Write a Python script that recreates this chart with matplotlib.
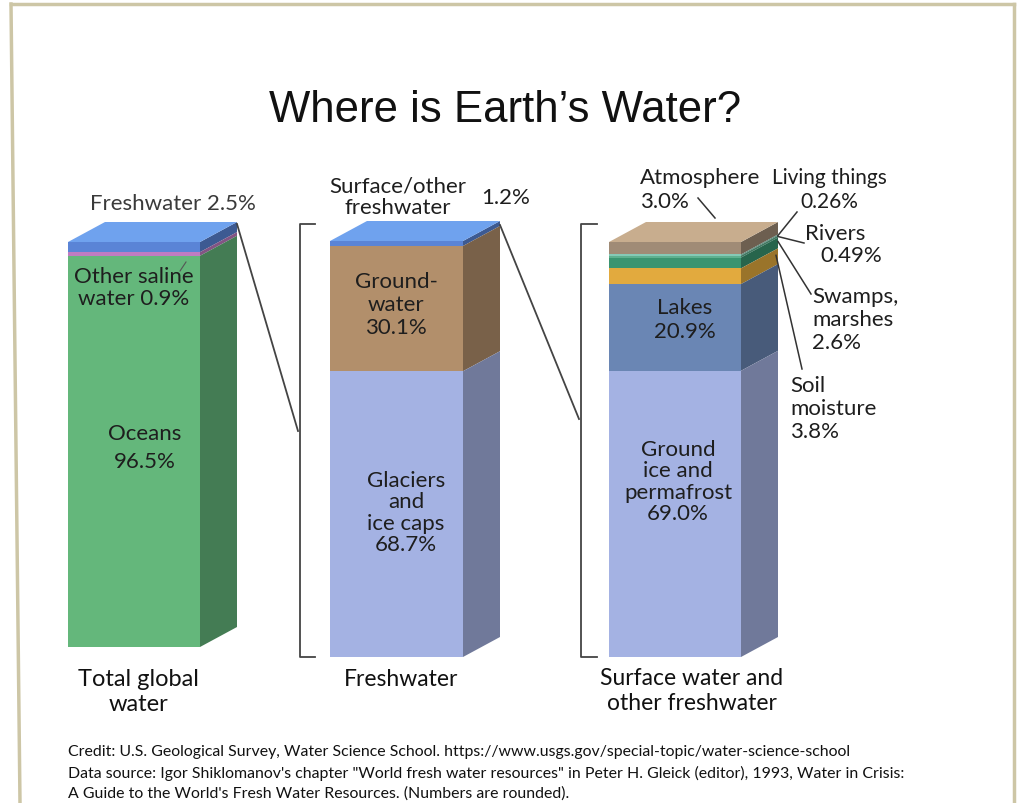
import matplotlib
matplotlib.use("Agg")
import matplotlib.pyplot as plt
from matplotlib.patches import Polygon

# values, listed top to bottom of each column
total_names = ["Freshwater", "Other saline water", "Oceans"]
total_values = [2.5, 0.9, 96.5]
fresh_names = ["Surface/other freshwater", "Groundwater", "Glaciers and ice caps"]
fresh_values = [1.2, 30.1, 68.7]
surface_names = ["Atmosphere", "Living things", "Rivers", "Swamps, marshes",
                 "Soil moisture", "Lakes", "Ground ice and permafrost"]
surface_values = [3.0, 0.26, 0.49, 2.6, 3.8, 20.9, 69.0]

total_colors = ["#5a84d6", "#c07cc2", "#64b77b"]
fresh_colors = ["#5a84d6", "#b28f6b", "#a4b2e3"]
surface_colors = ["#a08b76", "#86c9b6", "#5fb08f", "#3a9470", "#e2aa3e",
                  "#6a86b4", "#a4b2e3"]
top_colors = ["#6fa2ee", "#6fa2ee", "#c8ad8e"]

LABEL_FONT = ["Lato", "DejaVu Sans"]
TXT = "#1e1e1e"
FS = 16

DX, DY = 37, 20  # depth of the 3d boxes


def darker(c, f=0.68):
    r, g, b = matplotlib.colors.to_rgb(c)
    return (r * f, g * f, b * f)


def pct(v):
    return f"{v:.1f}%" if round(v, 1) == v else f"{v:.2f}%"


def draw_box(ax, xl, xr, ytop, ybot, values, colors, topc):
    scale = (ybot - ytop) / sum(values)
    y = ytop
    segs = []
    for v, c in zip(values, colors):
        y2 = y + v * scale
        ax.add_patch(Polygon([(xl, y), (xr, y), (xr, y2), (xl, y2)],
                             closed=True, fc=c, lw=0))
        ax.add_patch(Polygon([(xr, y), (xr + DX, y - DY), (xr + DX, y2 - DY), (xr, y2)],
                             closed=True, fc=darker(c), lw=0))
        segs.append((y, y2))
        y = y2
    ax.add_patch(Polygon([(xl, ytop), (xl + DX, ytop - DY), (xr + DX, ytop - DY), (xr, ytop)],
                         closed=True, fc=topc, lw=0))
    return segs


def label(x, y, s, ha="center", ls=1.2, fs=FS, color=TXT):
    ax.text(x, y, s, ha=ha, va="center", fontsize=fs, family=LABEL_FONT,
            color=color, linespacing=ls)


fig = plt.figure(figsize=(10.2, 8.04), dpi=100)
ax = fig.add_axes([0, 0, 1, 1])
ax.set_xlim(0, 1020)
ax.set_ylim(804, 0)
ax.axis("off")

# frame of the page
ax.plot([11, 1014], [5, 5], color="#cdc6a6", lw=2.5)
ax.plot([11, 20], [5, 804], color="#cdc6a6", lw=2.5)
ax.plot([1014, 1014], [5, 804], color="#cdc6a6", lw=2.5)

ax.text(505, 111, "Where is Earth\u2019s Water?", ha="center", va="center",
        fontsize=31.5, family=["Liberation Sans", "DejaVu Sans"], color="#111111")

s1 = draw_box(ax, 68, 200, 243, 648, total_values, total_colors, top_colors[0])
s2 = draw_box(ax, 330, 463, 242, 658, fresh_values, fresh_colors, top_colors[1])
s3 = draw_box(ax, 609, 741, 243, 658, surface_values, surface_colors, top_colors[2])

# column 1
label(173, 204, f"{total_names[0]} {pct(total_values[0])}", color="#3a3a3a")
label(134, 288, f"Other saline\nwater {pct(total_values[1])}", ls=1.15)
ax.plot([186, 180], [263, 272], color="#555555", lw=0.8)
label(145, 448, f"{total_names[2]}\n{pct(total_values[2])}", ls=1.5)

# column 2
label(398, 197, "Surface/other\nfreshwater", ls=1.1)
label(506, 198, pct(fresh_values[0]))
label(396, 305, f"Ground-\nwater\n{pct(fresh_values[1])}", ls=1.2)
label(406, 513, f"Glaciers\nand\nice caps\n{pct(fresh_values[2])}", ls=1.1)

# column 3
label(685, 320, f"{surface_names[5]}\n{pct(surface_values[5])}", ls=1.25)
label(678, 482, f"Ground\nice and\npermafrost\n{pct(surface_values[6])}", ls=1.1)

label(640, 190, f"Atmosphere\n{pct(surface_values[0])}", ha="left")
label(829, 190, f"Living things\n{pct(surface_values[1])}", fs=15)
label(805, 234, "Rivers", ha="left")
label(820, 256, pct(surface_values[2]), ha="left")
label(812, 320, f"Swamps,\nmarshes\n{pct(surface_values[3])}", ha="left")
label(790, 409, f"Soil\nmoisture\n{pct(surface_values[4])}", ha="left")

# leader lines in column 3
lc = dict(color="#333333", lw=1.1)
xs = 741 + DX
ax.plot([698, 715], [199, 219], **lc)
ax.plot([797, xs], [213, s3[1][0] - DY + 1], **lc)
ax.plot([804, xs], [244, s3[2][0] - DY + 1], **lc)
ax.plot([811, xs], [295, s3[3][0] - DY + 4], **lc)
ax.plot([802, xs - 2], [370, s3[4][0] - DY + 7], **lc)

# brackets and connectors
bc = dict(color="#444444", lw=1.3)
ax.plot([315, 300, 300, 315], [225, 225, 658, 658], **bc)
ax.plot([597, 581, 581, 597], [225, 225, 658, 658], **bc)
ax.plot([200 + DX, 298], [243 - DY + 2, 432], **bc)
ax.plot([463 + DX, 579], [242 - DY + 4, 420], **bc)

label(138, 692, "Total global\nwater", fs=17, color="#111111")
label(401, 680, "Freshwater", fs=16.5, color="#111111")
label(692, 691, "Surface water and\nother freshwater", fs=16.5, color="#111111")

credit = ("Credit: U.S. Geological Survey, Water Science School. https://www.usgs.gov/special-topic/water-science-school\n"
          "Data source: Igor Shiklomanov's chapter \"World fresh water resources\" in Peter H. Gleick (editor), 1993, Water in Crisis:\n"
          "A Guide to the World's Fresh Water Resources. (Numbers are rounded).")
ax.text(68, 773, credit, ha="left", va="center", fontsize=11.4, family=LABEL_FONT,
        color="#111111", linespacing=1.55)

fig.savefig("out.png", dpi=100, facecolor="white")
